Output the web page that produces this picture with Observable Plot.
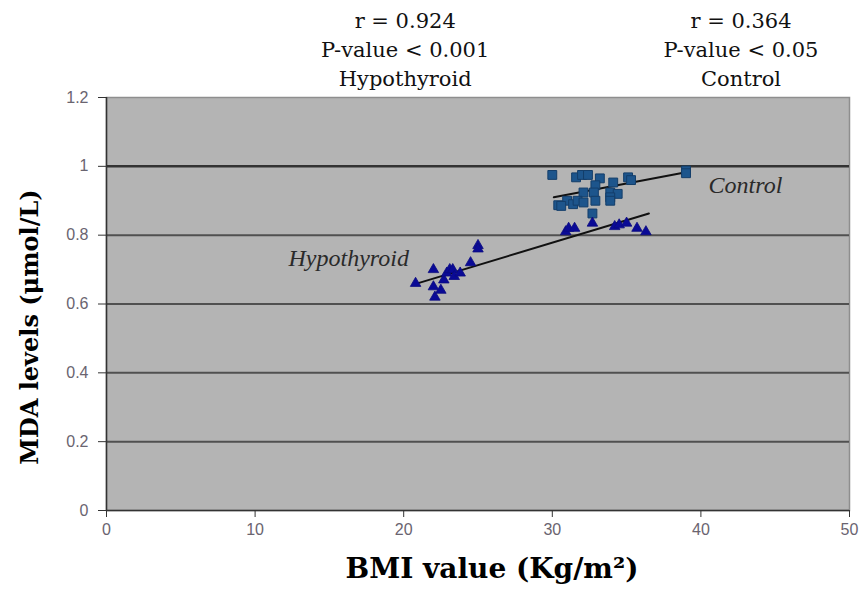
<!DOCTYPE html>
<html>
<head>
<meta charset="utf-8">
<script src="https://cdn.jsdelivr.net/npm/d3@7"></script>
<script src="https://cdn.jsdelivr.net/npm/@observablehq/plot@0.6"></script>
<style>
  html, body { margin: 0; padding: 0; background: #fff; }
  #chart { width: 862px; height: 591px; }
</style>
</head>
<body>
<div id="chart"></div>
<script>
// ---- data ----
const hypoBMI = [20.8, 22.0, 22.0, 22.1, 22.5, 22.7, 22.9, 23.1, 23.3, 23.4, 23.8, 24.5, 25.0, 25.0,
                 30.9, 31.1, 31.5, 32.7, 34.2, 34.5, 35.0, 35.7, 36.3];
const hypoMDA = [0.66, 0.70, 0.65, 0.62, 0.64, 0.67, 0.69, 0.70, 0.70, 0.68, 0.69, 0.72, 0.77, 0.76,
                 0.81, 0.82, 0.82, 0.835, 0.825, 0.83, 0.835, 0.82, 0.81];
const ctrlBMI = [30.0, 31.6, 32.0, 32.4, 33.2, 35.1, 35.3, 39.0, 39.0, 32.9, 34.1, 32.1, 32.8, 33.9, 34.4,
                 30.4, 31.0, 31.4, 31.7, 32.1, 32.9, 33.9, 30.6, 32.7, 33.9];
const ctrlMDA = [0.975, 0.968, 0.975, 0.975, 0.965, 0.968, 0.96, 0.988, 0.98, 0.945, 0.953, 0.924, 0.924, 0.924, 0.92,
                 0.887, 0.90, 0.89, 0.90, 0.895, 0.90, 0.91, 0.885, 0.863, 0.90];
// fitted regression lines (end points)
const hypoFitBMI = [20.7, 36.5];
const hypoFitMDA = [0.657, 0.863];
const ctrlFitBMI = [30.1, 39.0];
const ctrlFitMDA = [0.91, 0.983];
// axis ticks
const xTicks = [0, 10, 20, 30, 40, 50];
const yTicks = [0, 0.2, 0.4, 0.6, 0.8, 1, 1.2];
// texts
const hypoStats = ["r = 0.924", "P-value < 0.001", "Hypothyroid"];
const ctrlStats = ["r = 0.364", "P-value < 0.05", "Control"];
const xTitle = "BMI value (Kg/m²)";
const yTitle = "MDA levels (μmol/L)";

const hypo = hypoBMI.map((b, i) => ({bmi: b, mda: hypoMDA[i]}));
const ctrl = ctrlBMI.map((b, i) => ({bmi: b, mda: ctrlMDA[i]}));
const hypoFit = hypoFitBMI.map((b, i) => ({bmi: b, mda: hypoFitMDA[i]}));
const ctrlFit = ctrlFitBMI.map((b, i) => ({bmi: b, mda: ctrlFitMDA[i]}));

const serif = "'DejaVu Serif', 'Liberation Serif', serif";
const tserif = "'Liberation Serif', serif";
const sans = "'Liberation Sans', Arial, sans-serif";

const chart = Plot.plot({
  width: 862,
  height: 591,
  marginLeft: 106,
  marginRight: 13,
  marginTop: 97,
  marginBottom: 81,
  style: {fontFamily: sans, background: "#fff", overflow: "visible"},
  x: {domain: [0, 50], ticks: xTicks},
  y: {domain: [0, 1.2], ticks: yTicks},
  marks: [
    Plot.frame({fill: "#b4b4b4", stroke: "#8e8e8e", strokeWidth: 1.5}),
    Plot.ruleY(yTicks.filter(d => d > 0 && d < 1.2 && d !== 1), {stroke: "#505050", strokeWidth: 2}),
    Plot.ruleY([1], {stroke: "#333", strokeWidth: 2.5}),
    Plot.ruleX([0], {stroke: "#333", strokeWidth: 1.5}),
    Plot.ruleY([0], {stroke: "#333", strokeWidth: 1.5}),
    Plot.axisX({ticks: xTicks, tickSize: 7, tickPadding: 6, fontSize: 16, color: "#6a6470", stroke: "#333", label: null, tickFormat: d => String(d)}),
    Plot.axisY({ticks: yTicks, tickSize: 8, tickPadding: 10, fontSize: 16, color: "#6a6470", stroke: "#333", label: null, tickFormat: d => String(d)}),
    Plot.line(hypoFit, {x: "bmi", y: "mda", stroke: "#111", strokeWidth: 2}),
    Plot.line(ctrlFit, {x: "bmi", y: "mda", stroke: "#111", strokeWidth: 2}),
    Plot.dot(ctrl, {x: "bmi", y: "mda", symbol: "square", r: 5, fill: "#1d558c", stroke: "#143e6a", strokeWidth: 1}),
    Plot.dot(hypo, {x: "bmi", y: "mda", symbol: "triangle", r: 3.9, fill: "#0a0a96", stroke: "#0a0a80", strokeWidth: 0.8}),
    Plot.text(["Hypothyroid"], {x: 16.3, y: 0.733, fontFamily: tserif, fontStyle: "italic", fontSize: 24, fill: "#2a2a2a"}),
    Plot.text(["Control"], {x: 43.0, y: 0.945, fontFamily: tserif, fontStyle: "italic", fontSize: 24, fill: "#2a2a2a"}),
    Plot.text([hypoStats.join("\n")], {x: 20.1, y: 1.345, fontFamily: serif, fontSize: 21, lineHeight: 1.38, fill: "#111", clip: false}),
    Plot.text([ctrlStats.join("\n")], {x: 42.7, y: 1.345, fontFamily: serif, fontSize: 21, lineHeight: 1.38, fill: "#111", clip: false}),
    Plot.text([xTitle], {frameAnchor: "bottom", textAnchor: "middle", dx: 14, dy: 67, fontFamily: serif, fontWeight: "bold", fontSize: 28, fill: "#000"}),
    Plot.text([yTitle], {frameAnchor: "left", textAnchor: "middle", dx: -76, dy: 23, rotate: -90, fontFamily: serif, fontWeight: "bold", fontSize: 24, fill: "#000"})
  ]
});
document.getElementById("chart").appendChild(chart);
</script>
</body>
</html>
